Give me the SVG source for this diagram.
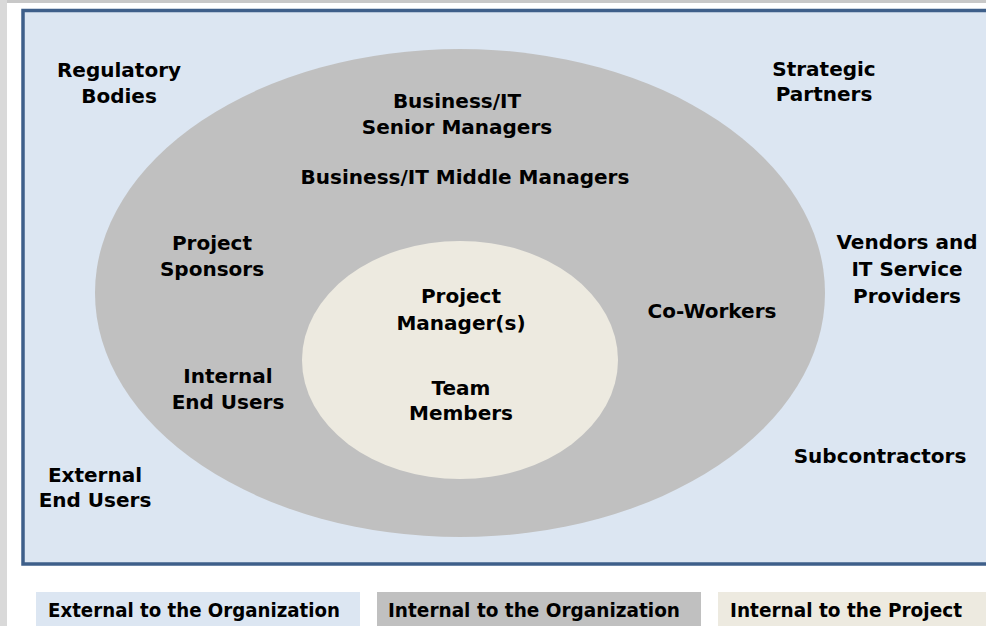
<svg xmlns="http://www.w3.org/2000/svg" width="986" height="626" viewBox="0 0 986 626">
<style>
.t{font-family:"DejaVu Sans","Verdana",sans-serif;font-weight:bold;font-size:20px;fill:#000;text-anchor:middle}
.lg{font-family:"DejaVu Sans Condensed","DejaVu Sans",sans-serif;font-weight:bold;font-size:20px;fill:#000}
</style>
<rect x="0" y="0" width="986" height="626" fill="#ffffff"/>
<rect x="0" y="0" width="986" height="3" fill="#c8c8c8"/>
<rect x="0" y="0" width="7" height="626" fill="#d9d9d9"/>
<g id="external">
<rect x="23" y="10.5" width="970" height="553.5" fill="#dce6f2" stroke="#3e5f8a" stroke-width="3.5"/>
</g>
<g id="internal-org">
<ellipse cx="460" cy="293" rx="365" ry="244" fill="#c0c0c0"/>
</g>
<g id="internal-project">
<ellipse cx="460" cy="360" rx="158" ry="119" fill="#edeae0"/>
</g>
<g id="connectors"></g>
<g id="regulatory"><text class="t" x="119" y="77">Regulatory</text><text class="t" x="119" y="103">Bodies</text></g>
<g id="strategic"><text class="t" x="824" y="76">Strategic</text><text class="t" x="824" y="101">Partners</text></g>
<g id="senior"><text class="t" x="457" y="108">Business/IT</text><text class="t" x="457" y="134">Senior Managers</text></g>
<g id="middle"><text class="t" x="465" y="184">Business/IT Middle Managers</text></g>
<g id="sponsors"><text class="t" x="212" y="250">Project</text><text class="t" x="212" y="276">Sponsors</text></g>
<g id="vendors"><text class="t" x="907" y="249">Vendors and</text><text class="t" x="907" y="276">IT Service</text><text class="t" x="907" y="303">Providers</text></g>
<g id="pm"><text class="t" x="461" y="303">Project</text><text class="t" x="461" y="330">Manager(s)</text></g>
<g id="coworkers"><text class="t" x="712" y="318">Co-Workers</text></g>
<g id="team"><text class="t" x="461" y="395">Team</text><text class="t" x="461" y="420">Members</text></g>
<g id="internal-users"><text class="t" x="228" y="383">Internal</text><text class="t" x="228" y="409">End Users</text></g>
<g id="subcontractors"><text class="t" x="880" y="463">Subcontractors</text></g>
<g id="external-users"><text class="t" x="95" y="482">External</text><text class="t" x="95" y="507">End Users</text></g>
<g id="legend">
<rect x="36" y="592" width="324" height="40" fill="#dce6f2"/>
<rect x="377" y="592" width="324" height="40" fill="#c0c0c0"/>
<rect x="718" y="592" width="280" height="40" fill="#edeae0"/>
<text class="lg" x="48" y="617" textLength="292" lengthAdjust="spacingAndGlyphs">External to the Organization</text>
<text class="lg" x="388" y="617" textLength="292" lengthAdjust="spacingAndGlyphs">Internal to the Organization</text>
<text class="lg" x="730" y="617" textLength="232" lengthAdjust="spacingAndGlyphs">Internal to the Project</text>
</g>
</svg>
